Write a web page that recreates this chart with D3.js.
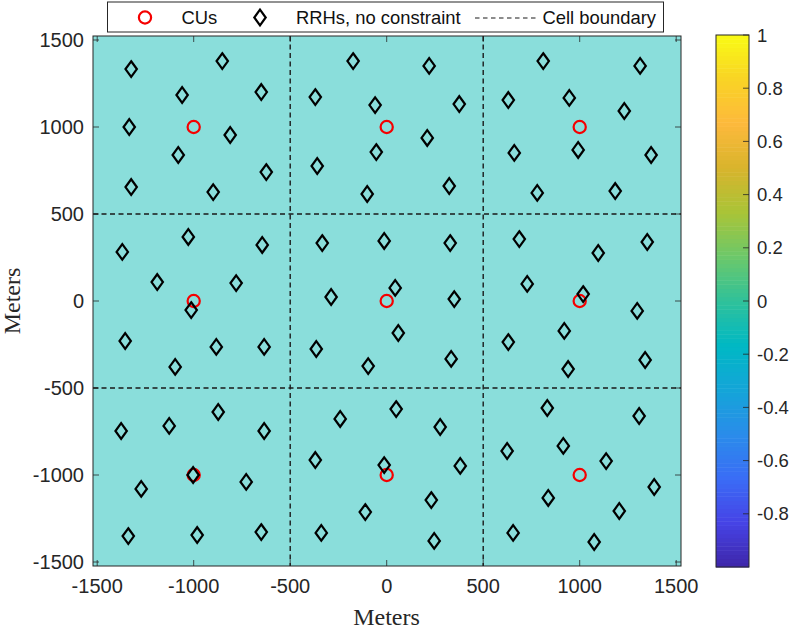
<!DOCTYPE html>
<html>
<head>
<meta charset="utf-8">
<script src="https://cdn.jsdelivr.net/npm/d3@7"></script>
<style>
html, body { margin: 0; padding: 0; background: #fff; }
svg { display: block; }
.tick-label { font-family: "Liberation Sans", sans-serif; font-size: 20px; fill: #262626; }
.axis-title { font-family: "Liberation Serif", serif; font-size: 24px; fill: #262626; }
.legend-label { font-family: "Liberation Sans", sans-serif; font-size: 18.4px; fill: #111; }
</style>
</head>
<body>
<div id="chart"></div>
<script>
const cuX = [-1000, 0, 1000, -1000, 0, 1000, -1000, 0, 1000];
const cuY = [1000, 1000, 1000, 0, 0, 0, -1000, -1000, -1000];

const rrhX = [
    -1324, -852, -1060, -650, -1334, -811, -1080, -624, -1324, -899,
    -174, 220, -370, -60, 376, -54, 210, -360, -101, 324,
    811, 1313, 630, 946, 1231, 661, 992, 1370, 780, 1184,
    -1028, -1370, -645, -1189, -780, -1013, -1355, -883, -635, -1096,
    -334, -13, 329, -288, 44, 350, 60, -365, 334, -96,
    687, 1350, 1096, 728, 1018, 1298, 920, 630, 1339, 940,
    -873, -1376, -1127, -635, -1003, -728, -1272, -1339, -982, -650,
    49, -241, 277, -370, -13, 381, 231, -111, -339, 246,
    832, 1308, 624, 915, 1137, 1386, 837, 1205, 655, 1075
];
const rrhY = [
    1333, 1379, 1184, 1201, 1000, 954, 839, 741, 655, 626,
    1379, 1351, 1172, 1126, 1132, 856, 937, 776, 615, 661,
    1379, 1351, 1155, 1167, 1092, 851, 868, 839, 621, 632,
    368, 282, 322, 109, 103, -52, -230, -264, -264, -379,
    333, 345, 333, 23, 75, 11, -184, -276, -333, -374,
    356, 339, 276, 98, 40, -57, -172, -236, -339, -391,
    -638, -747, -718, -747, -1000, -1040, -1080, -1351, -1345, -1328,
    -621, -678, -724, -914, -943, -948, -1144, -1213, -1333, -1379,
    -615, -661, -862, -833, -920, -1069, -1132, -1207, -1333, -1385
];

const boundaries = [-500, 500];
const axisTicks = [-1500, -1000, -500, 0, 500, 1000, 1500];
const colorTicks = [1, 0.8, 0.6, 0.4, 0.2, 0, -0.2, -0.4, -0.6, -0.8];
const parulaStops = ["#3e26a8", "#4643e6", "#3a6cf6", "#2a8cea", "#14a5d8", "#00b8c4", "#2fc19a", "#6cc86a", "#a9c437", "#d8b42c", "#fdb93c", "#f9d325", "#f9fb15"];
const legendLabels = ["CUs", "RRHs, no constraint", "Cell boundary"];

const width = 789, height = 626;
const plot = { left: 93, right: 681, top: 36, bottom: 566 };
const bar = { left: 716, right: 749, top: 35, bottom: 567 };

const svg = d3.select("#chart").append("svg")
    .attr("width", width)
    .attr("height", height);

const x = d3.scaleLinear().domain([-1500, 1500]).range([97.2, 676.2]);
const y = d3.scaleLinear().domain([-1500, 1500]).range([562, 40]);

// plot area
svg.append("rect")
    .attr("x", plot.left).attr("y", plot.top)
    .attr("width", plot.right - plot.left).attr("height", plot.bottom - plot.top)
    .attr("fill", "#8adedb");

// tick marks, drawn inward on all four sides
axisTicks.forEach(t => {
    [[plot.bottom, plot.bottom - 6], [plot.top, plot.top + 6]].forEach(p => {
        svg.append("line").attr("x1", x(t)).attr("x2", x(t)).attr("y1", p[0]).attr("y2", p[1])
            .attr("stroke", "#262626").attr("stroke-width", 0.8);
    });
    [[plot.left, plot.left + 6], [plot.right, plot.right - 6]].forEach(p => {
        svg.append("line").attr("y1", y(t)).attr("y2", y(t)).attr("x1", p[0]).attr("x2", p[1])
            .attr("stroke", "#262626").attr("stroke-width", 0.8);
    });
    svg.append("text").attr("class", "tick-label")
        .attr("x", x(t)).attr("y", plot.bottom + 27)
        .attr("text-anchor", "middle").text(t);
    svg.append("text").attr("class", "tick-label")
        .attr("x", plot.left - 9).attr("y", y(t) + 7)
        .attr("text-anchor", "end").text(t);
});

// cell boundaries
boundaries.forEach(b => {
    svg.append("line").attr("x1", x(b)).attr("x2", x(b)).attr("y1", plot.top).attr("y2", plot.bottom)
        .attr("stroke", "#1a1a1a").attr("stroke-width", 1.4).attr("stroke-dasharray", "5,3.5");
    svg.append("line").attr("x1", plot.left).attr("x2", plot.right).attr("y1", y(b)).attr("y2", y(b))
        .attr("stroke", "#1a1a1a").attr("stroke-width", 1.4).attr("stroke-dasharray", "5,3.5");
});

svg.append("rect")
    .attr("x", plot.left).attr("y", plot.top)
    .attr("width", plot.right - plot.left).attr("height", plot.bottom - plot.top)
    .attr("fill", "none").attr("stroke", "#262626").attr("stroke-width", 1);

const diamondPath = "M0,-7.8L5.7,0L0,7.8L-5.7,0Z";

svg.selectAll(".cu").data(cuX).enter().append("circle")
    .attr("class", "cu")
    .attr("cx", d => x(d))
    .attr("cy", (d, i) => y(cuY[i]))
    .attr("r", 6.1)
    .attr("fill", "none").attr("stroke", "#f50000").attr("stroke-width", 2.2);

svg.selectAll(".rrh").data(rrhX).enter().append("path")
    .attr("class", "rrh")
    .attr("d", diamondPath)
    .attr("transform", (d, i) => `translate(${x(d)},${y(rrhY[i])})`)
    .attr("fill", "none").attr("stroke", "#000").attr("stroke-width", 2.2);

// axis titles
svg.append("text").attr("class", "axis-title")
    .attr("x", 386.5).attr("y", 625).attr("text-anchor", "middle").text("Meters");
svg.append("text").attr("class", "axis-title")
    .attr("transform", "translate(20,301) rotate(-90)")
    .attr("text-anchor", "middle").text("Meters");

// legend
const legend = svg.append("g");
legend.append("rect").attr("x", 107.5).attr("y", 2).attr("width", 556).attr("height", 30)
    .attr("fill", "#fff").attr("stroke", "#262626").attr("stroke-width", 1);
legend.append("circle").attr("cx", 145).attr("cy", 17.5).attr("r", 6.1)
    .attr("fill", "none").attr("stroke", "#f50000").attr("stroke-width", 2.2);
legend.append("path").attr("d", diamondPath).attr("transform", "translate(260,17.5)")
    .attr("fill", "none").attr("stroke", "#000").attr("stroke-width", 2.2);
legend.append("line").attr("x1", 475).attr("x2", 537).attr("y1", 18).attr("y2", 18)
    .attr("stroke", "#1a1a1a").attr("stroke-width", 1.2).attr("stroke-dasharray", "4.5,3.5");
[181.5, 296, 542.5].forEach((lx, i) => {
    legend.append("text").attr("class", "legend-label")
        .attr("x", lx).attr("y", 24).text(legendLabels[i]);
});

// colorbar
const colorY = d3.scaleLinear().domain([-1, 1]).range([bar.bottom, bar.top]);
const colorAt = d3.scaleLinear()
    .domain(parulaStops.map((c, i) => -1 + 2 * i / (parulaStops.length - 1)))
    .range(parulaStops);
const steps = d3.range(-1, 1, 2 / 128);
svg.selectAll(".cb").data(steps).enter().append("rect")
    .attr("class", "cb")
    .attr("x", bar.left)
    .attr("width", bar.right - bar.left)
    .attr("y", d => colorY(d + 2 / 128))
    .attr("height", (bar.bottom - bar.top) / 128 + 0.5)
    .attr("fill", d => colorAt(d + 1 / 128));
svg.append("rect")
    .attr("x", bar.left).attr("y", bar.top)
    .attr("width", bar.right - bar.left).attr("height", bar.bottom - bar.top)
    .attr("fill", "none").attr("stroke", "#262626").attr("stroke-width", 1);
colorTicks.forEach(t => {
    svg.append("line").attr("x1", bar.right).attr("x2", bar.right - 6)
        .attr("y1", colorY(t)).attr("y2", colorY(t))
        .attr("stroke", "#262626").attr("stroke-width", 0.8);
    svg.append("text").attr("class", "tick-label")
        .style("font-size", "18.5px")
        .attr("x", bar.right + 8).attr("y", colorY(t) + 6.5)
        .text(t);
});
</script>
</body>
</html>
